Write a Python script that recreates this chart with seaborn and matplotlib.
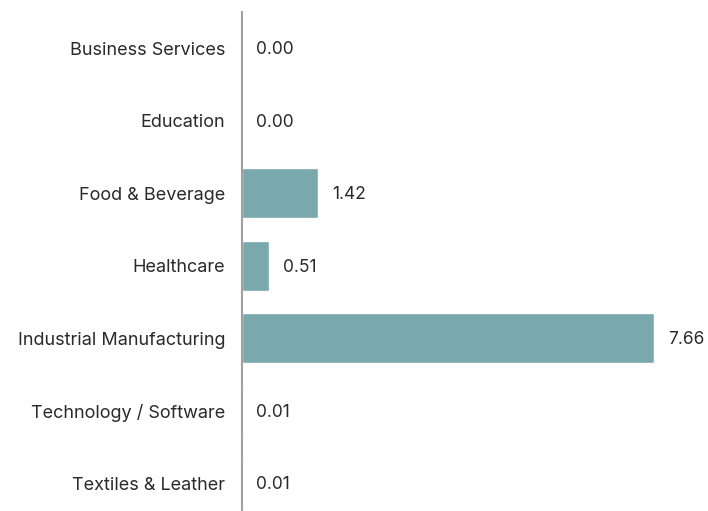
import matplotlib
matplotlib.use('Agg')
import matplotlib.pyplot as plt
import seaborn as sns
import pandas as pd

# Data
industries = ['Business Services', 'Education', 'Food & Beverage', 'Healthcare',
              'Industrial Manufacturing', 'Technology / Software', 'Textiles & Leather']
values = [0.00, 0.00, 1.42, 0.51, 7.66, 0.01, 0.01]
value_labels = ['0.00', '0.00', '1.42', '0.51', '7.66', '0.01', '0.01']

sns.set_style('white')
plt.rcParams['font.family'] = ['Inter', 'DejaVu Sans']

df = pd.DataFrame({'industry': industries, 'value': values})

fig = plt.figure(figsize=(7.08, 5.11), dpi=100)
ax = fig.add_axes([242 / 708, 0, 466 / 708, 499 / 511])

sns.barplot(data=df, y='industry', x='value', color='#79a9ac', width=0.69,
            saturation=1, ax=ax, orient='h')

# value labels right of each bar
for i, (v, lab) in enumerate(zip(values, value_labels)):
    ax.annotate(lab, xy=(v, i), xytext=(10, -1), textcoords='offset points',
                ha='left', va='center', fontsize=12.5, color='#2a2a2a')

ax.set_xlim(0, 8.66)
ax.set_ylim(6.38, -0.5)
ax.set_xlabel('')
ax.set_ylabel('')
ax.set_xticks([])
ax.tick_params(axis='y', length=0, pad=12, labelsize=13, labelcolor='#2a2a2a')

for side in ['top', 'right', 'bottom']:
    ax.spines[side].set_visible(False)
ax.spines['left'].set_color('#a0a0a0')
ax.spines['left'].set_linewidth(1.5)

fig.savefig('out.png', dpi=100)
